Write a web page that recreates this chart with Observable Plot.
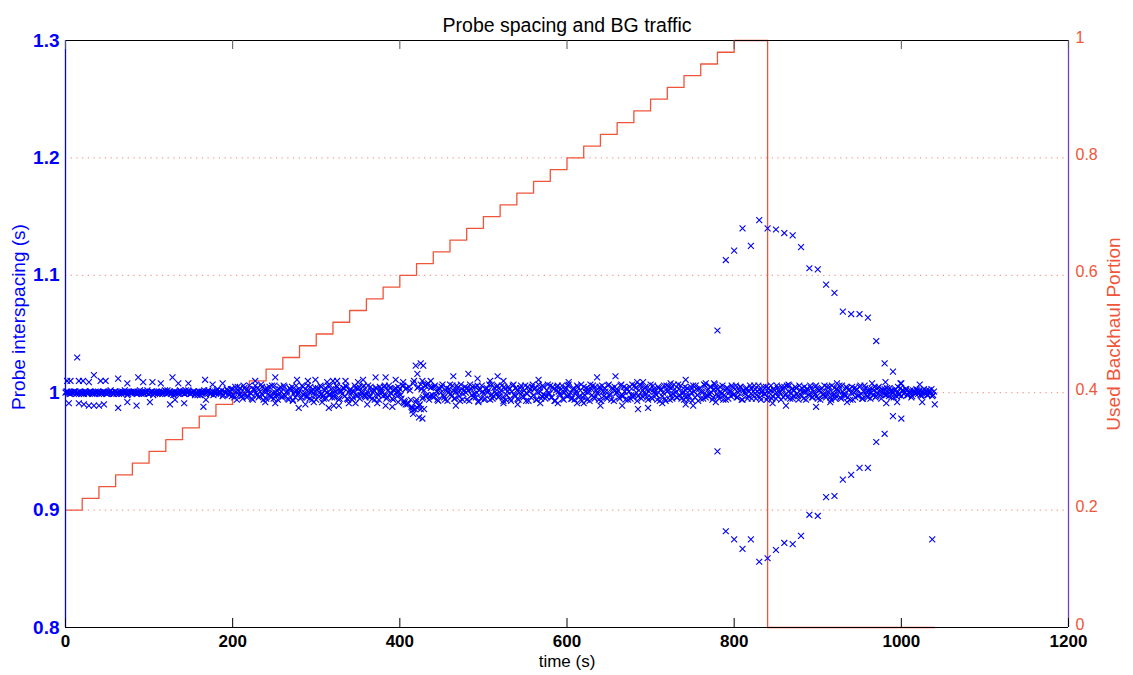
<!DOCTYPE html>
<html>
<head>
<meta charset="utf-8">
<script src="https://cdn.jsdelivr.net/npm/d3@7"></script>
<script src="https://cdn.jsdelivr.net/npm/@observablehq/plot@0.6"></script>
<style>
  html, body { margin: 0; padding: 0; background: #fff; }
  #chart { width: 1133px; height: 675px; }
</style>
</head>
<body>
<div id="chart"></div>
<script>
// ---------- data ----------
const xTicks = [0, 200, 400, 600, 800, 1000, 1200];
const leftTicks = [0.8, 0.9, 1.0, 1.1, 1.2, 1.3];
const rightTicks = [0, 0.2, 0.4, 0.6, 0.8, 1];

// background traffic staircase (time s, used backhaul portion)
const stepTimes = [0,20,40,60,80,100,120,140,160,180,200,220,240,260,280,300,320,340,360,380,
  400,420,440,460,480,500,520,540,560,580,600,620,640,660,680,700,720,740,760,780,800,840,1040];
const stepLevels = [0.20,0.22,0.24,0.26,0.28,0.30,0.32,0.34,0.36,0.38,0.40,0.42,0.44,0.46,0.48,
  0.50,0.52,0.54,0.56,0.58,0.60,0.62,0.64,0.66,0.68,0.70,0.72,0.74,0.76,0.78,0.80,0.82,0.84,0.86,
  0.88,0.90,0.92,0.94,0.96,0.98,1.00,0,0];

// dense probe band: deviation from 1 s in milliseconds, even seconds
const bandA = [0,1,0,-1,0,1,1,0,-1,0, 0,-1,1,0,0,1,-1,0,1,0, -1,0,0,1,0,-1,0,2,0,-1,
  1,0,-1,0,1,0,0,-2,1,0, 0,1,0,-1,0,0,1,-1,0,2, -1,0,1,0,0,-1,1,0,-1,0, 1,2,0,-1,0,1,-1,0,0,1,
  0,-1,2,0,1,-1,0,1,0,-2, 1,0,-1,2,0,1,0,-1,1,0, -1,3,1,0,-3,1,0,2,-2,3];            // t = 0..198
const bandB = [3,-4,1,5,-2,0,-5,4,2,-3, 6,-1,-6,3,0,4,-3,7,-2,1, -5,2,5,-4,0,6,-2,-6,3,1,
  -3,5,0,-5,4,2,-6,1,6,-1, 2,-4,5,0,-3,6,-5,1,3,-2, -6,4,0,5,-3,2,-5,6,-1,3,
  0,-4,6,2,-5,1,4,-3,5,-6, 2,0,-4,6,-2,3,-5,1,5,-3, -1,6,-4,2,0,-6,4,-2,5,1,
  -3,6,-5,2,4,-1,-6,3,0,5];                                                          // t = 200..398
const bandC = [3,-5,6,-8,4,-9,2,-12,8,-14,-6,5,-10,3,-4,6,-2,8,-3,5];               // t = 400..438
const bandD = [-4,6,1,-7,3,5,-2,-6,4,0, 7,-3,2,-5,6,1,-7,3,-1,5, -6,2,7,-2,-4,5,0,-7,3,6,
  -1,-5,4,2,-6,7,-3,1,5,-4, 0,6,-7,3,-2,5,-5,1,7,-3, 2,-6,4,0,-4,6,-1,-7,3,5,
  -2,4,-6,7,1,-3,5,-5,2,0, 6,-4,3,-7,5,1,-2,6,-6,2, -3,7,0,-5,4,-1,6,-4,2,-7,
  5,1,-6,3,7,-2,-4,5,0,-6, 3,6,-3,1,-5,7,-1,4,-7,2, 0,-4,6,-2,5,-6,3,1,-5,7,
  -2,4,-7,2,6,-3,0,5,-4,1, 7,-5,3,-1,-6,4,2,-3,6,-7, 1,5,-2,-5,7,0,-4,3,6,-1,
  -6,2,4,-3,5,-7,1,6,-2,3, -5,0,7,-4,2,-1,5,-6,3,4];                                  // t = 440..778
const bandE = [3,-5,1,6,-2,-6,4,0,-3,5, -1,6,-4,2,5,-6,0,3,-5,1, 4,-2,6,-5,1,3,-6,2,-1,5,
  -4,0,6,-3,2,-5,4,1,-6,3, 5,-1,-4,6,0,-5,2,4,-3,6, -2,1,5,-6,3,-1,4,-4,0,6,
  -5,2,3,-2,6,-4,1,5,-6,0, 4,-3,2,6,-5,1,-2,5,-4,3, 0,-6,4,2,-3,5,-1,-5,6,1,
  -4,3,0,-2,5,-3,4,1,-5,2, 3,-2,1,4,-4,0,2,-3,5,-1, -3,2,0,3,-2,1,-4,2,0,3,
  -1,2,-3,1,0,2,-2,1,3,-2];                                                          // t = 780..1038

// dense probe band, odd seconds
const bandA2 = [1,0,-1,0,0,1,-1,0,1,-1, 0,1,0,-1,1,0,0,-1,0,1, 0,-1,1,0,-1,0,1,0,-1,1,
  -1,0,1,-1,0,2,0,-1,0,1, 1,0,-1,0,2,-1,0,1,0,-1, 0,1,-2,0,1,0,-1,1,0,2, -1,0,1,0,-2,1,0,-1,2,0,
  1,-1,0,2,-1,0,1,-2,0,1, -2,1,0,-1,1,2,-1,0,-2,1, 2,-1,0,2,-2,0,3,-1,1,-3];          // t = 1..199
const bandB2 = [-2,5,-6,1,4,-3,6,-1,-4,2, 0,-5,3,6,-2,-4,1,5,-6,3, 4,-1,-3,6,-5,0,2,-2,5,-4,
  6,-3,1,-6,3,5,-1,-4,2,0, -5,6,-2,3,-4,1,5,-6,0,4, 2,-3,6,-1,-5,4,0,-2,6,-4,
  -3,1,5,-6,2,-1,4,6,-5,0, 3,-6,1,4,-3,5,-2,0,6,-4, 1,-3,5,-5,2,4,-1,-6,3,0,
  5,-2,-4,6,0,-5,2,4,-3,1];                                                          // t = 201..399
const bandC2 = [-2,6,-7,3,-10,5,-6,-13,10,-8,4,-11,7,-5,2,-3,7,-6,4,-2];             // t = 401..439
const bandD2 = [5,-2,-6,4,0,7,-4,2,-7,3, -1,6,-5,1,4,-3,7,-6,2,0, 4,-7,3,5,-1,-4,6,2,-5,1,
  -6,3,0,7,-2,-5,4,-1,6,-3, 2,-4,5,-6,1,3,-7,6,-2,4, -5,0,6,-3,2,-7,5,1,-4,7,
  3,-6,0,4,-5,6,-2,-3,7,-1, -4,5,-7,2,6,-1,3,-5,0,4, 6,-2,-5,3,-6,1,5,-3,7,-4,
  -2,4,0,-7,3,6,-5,2,-1,5, -7,1,4,-4,6,-2,-6,3,5,0, 2,-5,7,-3,1,4,-6,5,-2,-4,
  6,0,-3,7,-5,2,4,-1,-6,3, -4,6,1,-2,5,-7,3,0,-5,6, 2,-6,4,-1,3,-4,7,-2,-5,1,
  5,-3,-6,2,0,6,-4,3,-7,4, 1,-5,6,-2,-3,5,0,-4,7,-1];                                 // t = 441..779
const bandE2 = [-3,5,-1,-6,2,4,-5,1,6,-2, 3,-4,0,5,-6,2,-1,4,-3,6, -5,1,3,-2,6,-4,0,5,-1,-6,
  4,2,-5,3,-1,6,-3,0,5,-4, -2,6,1,-5,3,-3,5,-1,-6,2, 4,-5,0,3,-2,6,-4,1,5,-3,
  2,-6,4,-1,-3,5,0,-4,6,-2, -5,3,1,-4,6,-1,-3,4,2,-6, 5,0,-4,3,-2,6,-5,1,4,-3,
  1,-5,3,2,-4,0,5,-2,3,-1, -2,4,-3,1,2,-4,3,0,-2,4, 2,-1,3,-2,0,2,-3,1,-1,2,
  1,-2,0,3,-1,-2,2,0,-3,1];                                                          // t = 781..1039

// scattered probes just off the band (time s, spacing s)
const scatterT = [14, 2,6,16,21,28,34,42,48,63,74,87,93,104,114,128,135,147,167,176,188,
  4,16,22,28,34,40,46,63,74,85,101,125,131,142,165,168,
  227,251,277,290,299,313,320,325,335,350,356,371,383,395,404,
  239,251,272,279,287,297,307,315,321,327,339,347,361,373,383,391,398,407,
  419,425,428,421,427,431,437, 415,416,421,425,429,423,427,405,
  464,482,493,508,517,524,566,602,636,658,684,691,724,742,766,776,
  467,494,524,541,568,589,612,620,640,666,685,697,714,742,751,778,
  846,862,898,915,935,982,995,1025,1040, 865,923,965,981,999,1022];
const scatterV = [1.030, 1.010,1.010,1.010,1.010,1.009,1.015,1.010,1.010,1.012,1.008,1.013,1.009,1.009,1.008,1.013,1.008,1.008,1.011,1.007,1.008,
  0.991,0.991,0.990,0.989,0.989,0.989,0.990,0.987,0.992,0.989,0.992,0.990,0.994,0.991,0.988,0.994,
  1.010,1.013,1.011,1.010,1.011,1.009,1.010,1.010,1.010,1.009,1.011,1.013,1.013,1.011,1.009,
  0.992,0.991,0.993,0.987,0.990,0.992,0.992,0.987,0.989,0.989,0.991,0.991,0.990,0.991,0.989,0.988,0.992,0.990,
  1.023,1.025,1.023,1.016,1.010,1.006,1.010, 0.985,0.982,0.987,0.986,0.986,0.979,0.978,0.991,
  1.014,1.016,1.012,1.010,1.014,1.010,1.011,1.009,1.013,1.014,1.009,1.009,1.008,1.011,1.008,1.008,
  0.989,0.992,0.991,0.990,0.991,0.991,0.991,0.991,0.989,0.989,0.986,0.987,0.991,0.990,0.989,0.992,
  0.991,0.989,0.988,0.992,0.992,0.991,0.992,0.992,0.990, 1.007,1.008,1.008,1.009,1.008,1.007];

// probes disturbed by saturation (every 10 s)
const upperT = [780,790,800,810,820,830,840,850,860,870,880,890,900,910,920,930,940,950,960,970,980,990,1000];
const upperV = [1.053,1.113,1.121,1.140,1.125,1.147,1.140,1.139,1.136,1.134,1.124,1.106,1.105,1.092,1.085,
  1.069,1.067,1.067,1.064,1.044,1.025,1.018,1.008];
const lowerT = [780,790,800,810,820,830,840,850,860,870,880,890,900,910,920,930,940,950,960,970,980,990,1000,1037];
const lowerV = [0.950,0.882,0.875,0.867,0.875,0.856,0.859,0.866,0.872,0.871,0.878,0.896,0.895,0.911,0.912,
  0.926,0.930,0.936,0.936,0.958,0.965,0.980,0.978,0.875];

// ---------- build tables ----------
const BLUE = "#0000ff", RED = "#f0553a", PURPLE = "#7b3cc4";
const toLeft = v => 0.8 + v * 0.5;   // right axis (0..1) -> left axis (0.8..1.3)

const probes = [];
[[0, bandA], [200, bandB], [400, bandC], [440, bandD], [780, bandE],
 [1, bandA2], [201, bandB2], [401, bandC2], [441, bandD2], [781, bandE2]].forEach(([start, devs]) =>
  devs.forEach((d, i) => probes.push({t: start + 2 * i, v: 1 + d / 1000})));
scatterT.forEach((t, i) => probes.push({t, v: scatterV[i]}));
upperT.forEach((t, i) => probes.push({t, v: upperV[i]}));
lowerT.forEach((t, i) => probes.push({t, v: lowerV[i]}));

const steps = stepTimes.map((t, i) => ({t, v: stepLevels[i]}));

const FONT = "'Liberation Sans', Arial, Helvetica, sans-serif";

const chart = Plot.plot({
  width: 1133,
  height: 675,
  marginLeft: 65,
  marginRight: 65,
  marginTop: 40,
  marginBottom: 48,
  style: {fontFamily: FONT, background: "#fff", overflow: "visible"},
  x: {domain: [0, 1200]},
  y: {domain: [0.8, 1.3]},
  marks: [
    // dotted grid at right-axis ticks
    Plot.ruleY(leftTicks.slice(1, -1), {stroke: RED, strokeOpacity: 0.75, strokeDasharray: "1.2,4.5", strokeWidth: 1}),
    // staircase of background traffic
    Plot.line(steps, {x: "t", y: d => toLeft(d.v), curve: "step-after", stroke: RED, strokeWidth: 1.3}),
    // probe interspacing
    Plot.dot(probes, {x: "t", y: "v", symbol: "times", r: 2.8, stroke: BLUE, strokeWidth: 1.1}),
    // box
    Plot.ruleY([0.8], {stroke: "#000", strokeWidth: 1.2}),
    Plot.ruleY([1.3], {stroke: "#000", strokeWidth: 1.2}),
    Plot.ruleX([0], {stroke: BLUE, strokeWidth: 1.3}),
    Plot.ruleX([1200], {stroke: PURPLE, strokeWidth: 1.3}),
    // inward x ticks at bottom and top
    Plot.tickX(xTicks, {x: d => d, insetTop: 578, stroke: "#000", strokeWidth: 1}),
    Plot.tickX(xTicks, {x: d => d, insetBottom: 578, stroke: "#555", strokeWidth: 1}),
    // tick labels
    Plot.axisX({ticks: xTicks, tickSize: 0, tickPadding: 7, fontSize: 17, fontWeight: "bold", fill: "#000", label: null, tickFormat: d => String(d)}),
    Plot.axisY({anchor: "left", ticks: leftTicks, tickSize: 0, tickPadding: 6, fontSize: 19, fontWeight: "bold", fill: BLUE, label: null,
      tickFormat: d => (Math.abs(d - 1) < 1e-9 ? "1" : d.toFixed(1))}),
    Plot.axisY({anchor: "right", ticks: leftTicks, tickSize: 0, tickPadding: 7, dy: -3, fontSize: 16, fill: RED, label: null,
      tickFormat: (d, i) => String(rightTicks[i])}),
    // titles
    Plot.text(["Probe spacing and BG traffic"], {frameAnchor: "top", dy: -22, fontSize: 19.5, fill: "#000"}),
    Plot.text(["time (s)"], {frameAnchor: "bottom", dy: 39, fontSize: 17, fill: "#000"}),
    Plot.text(["Probe interspacing (s)"], {frameAnchor: "left", textAnchor: "middle", dx: -47, dy: -17, rotate: -90, fontSize: 19, fill: BLUE}),
    Plot.text(["Used Backhaul Portion"], {frameAnchor: "right", textAnchor: "middle", dx: 45, dy: 0, rotate: -90, fontSize: 19, fill: RED})
  ]
});
document.getElementById("chart").appendChild(chart);
</script>
</body>
</html>
